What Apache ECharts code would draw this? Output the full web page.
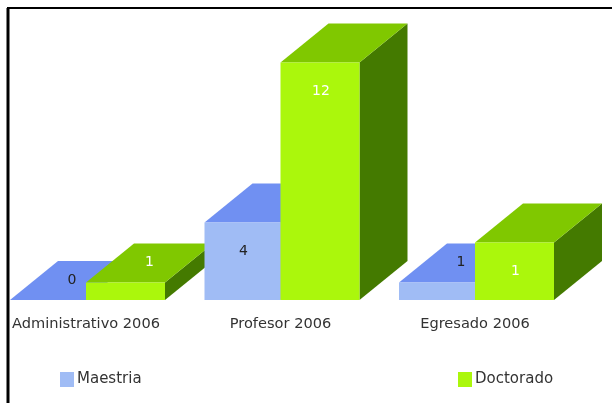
<!DOCTYPE html>
<html><head><meta charset="utf-8">
<style>html,body{margin:0;padding:0;background:#fff}#c{width:612px;height:403px;filter:blur(0.55px)}</style>
<script src="https://cdn.jsdelivr.net/npm/echarts@6/dist/echarts.min.js"></script>
</head><body><div id="c"></div>
<script>
const categories = ['Administrativo 2006', 'Profesor 2006', 'Egresado 2006'];
const maestria = [0, 4, 1];
const doctorado = [1, 12, 3];
const maestriaLabels = ['0', '4', '1'];
const doctoradoLabels = ['1', '12', '1'];

const palette = {
  Maestria: {front: '#a0bcf5', top: '#7090f2', side: '#4a66b8', text: '#222222'},
  Doctorado: {front: '#abf70c', top: '#80c800', side: '#447a00', text: '#ffffff'}
};
const DX = 48, DY = 39, FLOOR_VALUE = 0.125;

function box(name, labels, barW, side, order) {
  const p = palette[name];
  return {
    name, type: 'custom', coordinateSystem: 'cartesian2d',
    encode: {x: 0, y: 1},
    itemStyle: {color: p.front},
    data: categories.map((c, i) => [i, (name === 'Maestria' ? maestria : doctorado)[i]]),
    clip: false,
    renderItem(params, api) {
      const i = api.value(0), v = Math.max(api.value(1), FLOOR_VALUE);
      const cx = api.coord([i, 0])[0];
      const base = api.coord([i, FLOOR_VALUE])[1];
      const top = api.coord([i, v])[1];
      const x0 = side < 0 ? cx - barW : cx, x1 = x0 + barW;
      const z = i * 10 + order;
      const h = base - top;
      const inFront = h >= 30;
      return {type: 'group', children: [
        {type: 'polygon', z2: z, shape: {points: [[x1, top], [x1 + DX, top - DY], [x1 + DX, base - DY], [x1, base]]}, style: {fill: p.side}},
        {type: 'polygon', z2: z + 1, shape: {points: [[x0, top], [x1, top], [x1 + DX, top - DY], [x0 + DX, top - DY]]}, style: {fill: p.top}},
        {type: 'rect', z2: z + 2, shape: {x: x0, y: top, width: barW, height: h}, style: {fill: p.front}},
        {type: 'text', z2: z + 3, x: x0 + barW / 2 + (inFront ? 1 : DX / 2), y: inFront ? top + 29 : top - 20,
          style: {text: labels[i], fill: p.text, font: '14px "DejaVu Sans"', align: 'center', verticalAlign: 'middle'}}
      ]};
    }
  };
}

const chart = echarts.init(document.getElementById('c'), null, {renderer: 'canvas'});
chart.setOption({
  animation: false,
  backgroundColor: '#ffffff',
  grid: {left: 86, width: 389, top: 2.5, height: 300},
  xAxis: {type: 'category', boundaryGap: false, data: categories, axisLine: {show: false}, axisTick: {show: false},
    axisLabel: {color: '#333333', fontFamily: 'DejaVu Sans', fontSize: 14.6, margin: 14, interval: 0}},
  yAxis: {type: 'value', min: 0, max: 15, show: false, splitLine: {show: false}},
  legend: [
    {left: 60, top: 372, data: ['Maestria'], icon: 'rect', itemWidth: 14, itemHeight: 15, itemGap: 3,
      textStyle: {color: '#333333', fontFamily: 'DejaVu Sans', fontSize: 15, padding: [0, 0, 0, -2]}, padding: 0},
    {left: 458, top: 372, data: ['Doctorado'], icon: 'rect', itemWidth: 14, itemHeight: 15, itemGap: 3,
      textStyle: {color: '#333333', fontFamily: 'DejaVu Sans', fontSize: 15, padding: [0, 0, 0, -2]}, padding: 0}
  ],
  graphic: [
    {type: 'line', silent: true, shape: {x1: 7, y1: 8, x2: 612, y2: 8}, style: {stroke: '#000000', lineWidth: 2}},
    {type: 'line', silent: true, shape: {x1: 8, y1: 8, x2: 8, y2: 403}, style: {stroke: '#000000', lineWidth: 3}}
  ],
  series: [box('Maestria', maestriaLabels, 76, -1, 0), box('Doctorado', doctoradoLabels, 79, 1, 5)]
});
</script></body></html>
